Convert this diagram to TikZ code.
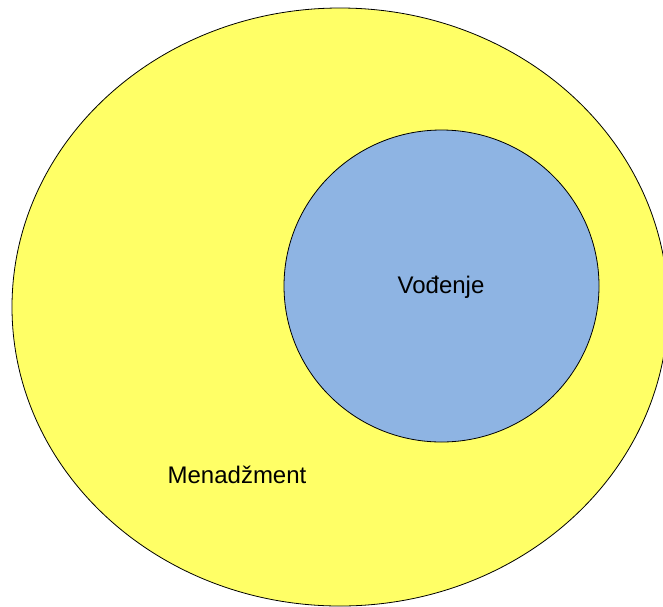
\documentclass[tikz,border=0pt]{standalone}
\usepackage{fontspec}
\setmainfont{Liberation Sans}
\usetikzlibrary{shapes.geometric}
\definecolor{yel}{HTML}{FFFF66}
\definecolor{blu}{HTML}{8EB4E3}
\tikzset{
  blob/.style={draw=black, line width=0.8pt},
  lbl/.style={font=\fontsize{24}{28}\selectfont, text=black, inner sep=0pt}
}
\begin{document}
\begin{tikzpicture}[x=1pt,y=-1pt]
\useasboundingbox (0,0) rectangle (663,606);
\clip (0,0) rectangle (663,606);
\fill[white] (0,0) rectangle (663,606);
\draw[blob, fill=yel] (340,307) ellipse [x radius=328, y radius=299];
\draw[blob, fill=blu] (441.5,286) ellipse [x radius=157.5, y radius=156];
\node[lbl] (vod) at (441,287) {Vođenje};
\node[lbl] (men) at (237,475) {Menadžment};
\end{tikzpicture}
\end{document}
